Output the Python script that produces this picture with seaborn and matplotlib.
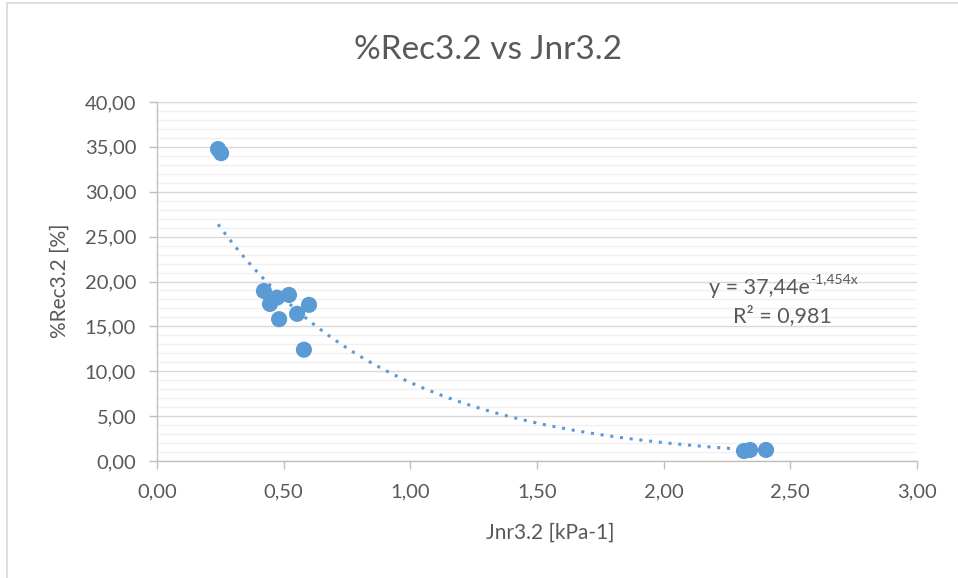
import numpy as np
import pandas as pd
import matplotlib
matplotlib.use("Agg")
import matplotlib.pyplot as plt
from matplotlib.patches import Rectangle
from matplotlib.ticker import MultipleLocator, FuncFormatter
import seaborn as sns

# Data
jnr = [0.241, 0.253, 0.422, 0.446, 0.474, 0.482, 0.521, 0.553, 0.580, 0.600, 2.317, 2.341, 2.404]
rec = [34.76, 34.30, 18.94, 17.50, 18.20, 15.80, 18.50, 16.40, 12.40, 17.40, 1.11, 1.23, 1.23]
fit_a = 37.44
fit_b = -1.454
title = "%Rec3.2 vs Jnr3.2"
x_label = "Jnr3.2 [kPa-1]"
y_label = "%Rec3.2 [%]"

df = pd.DataFrame({x_label: jnr, y_label: rec})

sns.set_theme(style="white")
plt.rcParams['font.family'] = ['Lato', 'DejaVu Sans']

W, H = 958, 578
fig = plt.figure(figsize=(W / 100, H / 100), dpi=100)
ax = fig.add_axes([157 / W, 1 - 461 / H, (917 - 157) / W, (461 - 102) / H])

grey_txt = "#595959"
blue = "#5B9BD5"

# exponential trendline
xs = np.linspace(min(jnr), min(jnr[-3:]), 200)
ys = fit_a * np.exp(fit_b * xs)
ax.plot(xs, ys, linestyle=(0, (1, 2.2)), color=blue, lw=2.2, zorder=2)

sns.scatterplot(data=df, x=x_label, y=y_label, ax=ax,
                color=blue, s=135, edgecolor="none", zorder=3)

ax.set_xlim(0, 3)
ax.set_ylim(0, 40)
ax.xaxis.set_major_locator(MultipleLocator(0.5))
ax.yaxis.set_major_locator(MultipleLocator(5))
ax.yaxis.set_minor_locator(MultipleLocator(1))
fmt = FuncFormatter(lambda v, p: f"{v:.2f}".replace(".", ","))
ax.xaxis.set_major_formatter(fmt)
ax.yaxis.set_major_formatter(fmt)

ax.grid(which="major", axis="y", color="#D9D9D9", lw=1.0, zorder=0)
ax.grid(which="minor", axis="y", color="#F0F0F0", lw=1.0, zorder=0)
ax.grid(which="both", axis="x", visible=False)
ax.set_axisbelow(True)

for s in ["top", "right"]:
    ax.spines[s].set_visible(False)
for s in ["left", "bottom"]:
    ax.spines[s].set_color("#BFBFBF")
    ax.spines[s].set_linewidth(1.0)

ax.tick_params(axis="both", which="major", direction="out", length=6, width=1,
               color="#BFBFBF", labelcolor=grey_txt, labelsize=14.5,
               bottom=True, left=True)
ax.tick_params(axis="x", which="major", pad=10)
ax.tick_params(axis="y", which="major", pad=9)
ax.tick_params(axis="both", which="minor", length=0)

ax.set_xlabel("")
ax.set_ylabel("")
fig.text(550 / W, 1 - 533 / H, x_label, ha="center", va="center",
         color=grey_txt, fontsize=15)
fig.text(60 / W, 1 - 281 / H, y_label, ha="center", va="center",
         rotation=90, color=grey_txt, fontsize=15)

fig.text(488 / W, 1 - 50 / H, title, ha="center", va="center",
         color=grey_txt, fontsize=24)

# trendline equation
xj = (810 - 157) / 253.3
ax.text(xj, 19.3, "y = 37,44e", ha="right", va="center",
        color=grey_txt, fontsize=15.5)
ax.text(xj, 20.3, "-1,454x", ha="left", va="center",
        color=grey_txt, fontsize=10)
ax.text(2.467, 16.2, "R² = 0,981", ha="center", va="center",
        color=grey_txt, fontsize=15.5)

fig.patches.append(Rectangle((7 / W, -0.05), 1.1, 1 - 3 / H + 0.05,
                             transform=fig.transFigure, fill=False,
                             edgecolor="#D9D9D9", lw=1.2))

fig.savefig("out.png", dpi=100)
